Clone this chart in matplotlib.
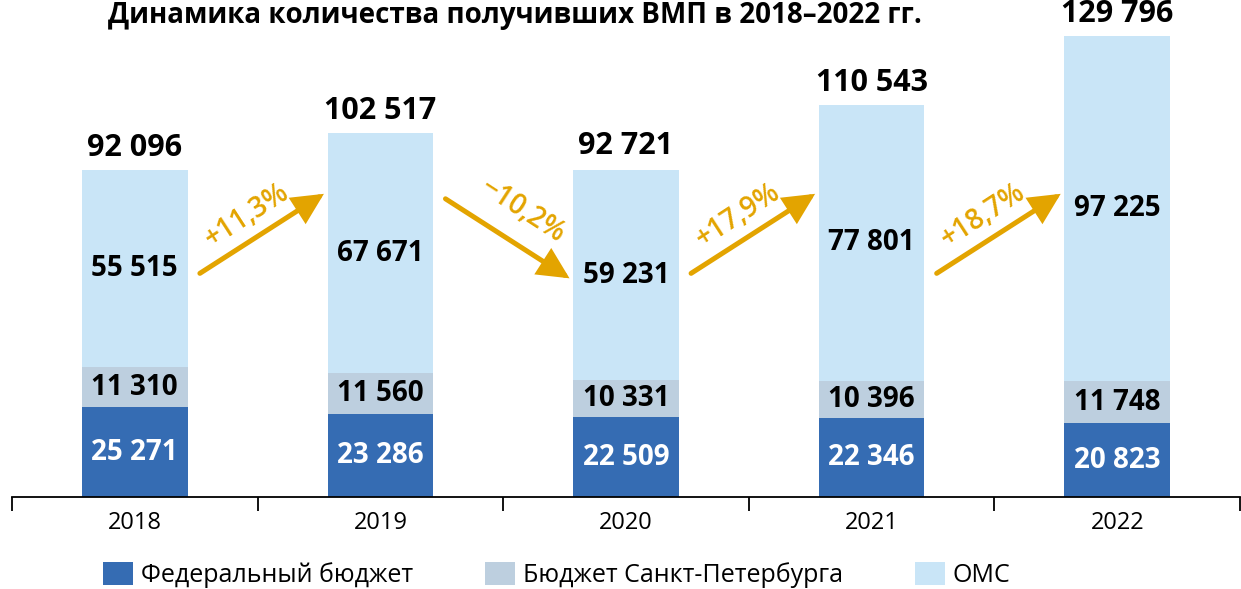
import matplotlib.pyplot as plt
from matplotlib.patches import FancyArrowPatch

plt.rcParams['font.family'] = ['Open Sans', 'DejaVu Sans']

# данные
years = ['2018', '2019', '2020', '2021', '2022']
federal = [25271, 23286, 22509, 22346, 20823]
spb = [11310, 11560, 10331, 10396, 11748]
oms = [55515, 67671, 59231, 77801, 97225]
totals = [92096, 102517, 92721, 110543, 129796]
changes = ['+11,3%', '\u221210,2%', '+17,9%', '+18,7%']

col_fed = '#356CB3'
col_spb = '#BDCFDF'
col_oms = '#C9E5F7'
col_arrow = '#E3A400'


def fmt(v):
    return f'{v:,}'.replace(',', ' ')


fig = plt.figure(figsize=(12.41, 5.89), dpi=100)
ax = fig.add_axes([12 / 1241, 92 / 589, 1228 / 1241, 497 / 589])

x = list(range(len(years)))
w = 0.43
bottom2 = federal
bottom3 = [a + b for a, b in zip(federal, spb)]

b1 = ax.bar(x, federal, w, color=col_fed, label='Федеральный бюджет')
b2 = ax.bar(x, spb, w, bottom=bottom2, color=col_spb, label='Бюджет Санкт-Петербурга')
b3 = ax.bar(x, oms, w, bottom=bottom3, color=col_oms, label='ОМС')

for i in x:
    ax.text(i, federal[i] / 2, fmt(federal[i]), ha='center', va='center',
            color='white', fontsize=20, fontweight='bold')
    ax.text(i, bottom2[i] + spb[i] / 2, fmt(spb[i]), ha='center', va='center',
            color='black', fontsize=20, fontweight='bold')
    ax.text(i, bottom3[i] + oms[i] / 2, fmt(oms[i]), ha='center', va='center',
            color='black', fontsize=20, fontweight='bold')
    ax.annotate(fmt(totals[i]), (i, totals[i]), xytext=(0, 5), textcoords='offset points',
                ha='center', va='bottom', fontsize=22, fontweight='bold')

# стрелки изменения
trans = ax.get_xaxis_transform()
for i, lab in enumerate(changes):
    up = not lab.startswith('\u2212')
    x0, x1 = i + 0.265, i + 0.77
    y0, y1 = (0.45, 0.61) if up else (0.60, 0.44)
    arr = FancyArrowPatch((x0, y0), (x1, y1), transform=trans,
                          arrowstyle='-|>,head_length=0.85,head_width=0.42',
                          mutation_scale=20, lw=3.6, color=col_arrow,
                          shrinkA=0, shrinkB=0, joinstyle='miter')
    ax.add_patch(arr)
    xm, ym = (x0 + x1) / 2, (y0 + y1) / 2
    if up:
        ax.annotate(lab, (xm, ym), xycoords=trans, xytext=(-11, 13),
                    textcoords='offset points', ha='center', va='center',
                    rotation=33, color=col_arrow, fontsize=20, fontweight='semibold')
    else:
        ax.annotate(lab, (xm, ym), xycoords=trans, xytext=(11, 20),
                    textcoords='offset points', ha='center', va='center',
                    rotation=-33, color=col_arrow, fontsize=20, fontweight='semibold')

ax.set_xlim(-0.5, 4.5)
ax.set_ylim(0, 140000)
ax.set_xticks(x)
ax.set_xticklabels(years, fontsize=17)
ax.set_xticks([i - 0.5 for i in range(len(years) + 1)], minor=True)
ax.tick_params(axis='x', which='major', length=0, pad=10)
ax.tick_params(axis='x', which='minor', length=10, width=1.3, direction='out')
ax.set_yticks([])
for s in ['top', 'right', 'left']:
    ax.spines[s].set_visible(False)
ax.spines['bottom'].set_linewidth(1.3)

fig.text(515 / 1241, 1 - 1 / 589, 'Динамика количества получивших ВМП в 2018\u20132022 гг.',
         ha='center', va='top', fontsize=20, fontweight='bold')

fig.legend(handles=[b1, b2, b3], loc='center', bbox_to_anchor=(557 / 1241, 14 / 589),
           ncol=3, frameon=False, fontsize=18, handlelength=1.2, handleheight=1.0,
           columnspacing=2.9, handletextpad=0.3)

fig.savefig('out.png', dpi=100)
